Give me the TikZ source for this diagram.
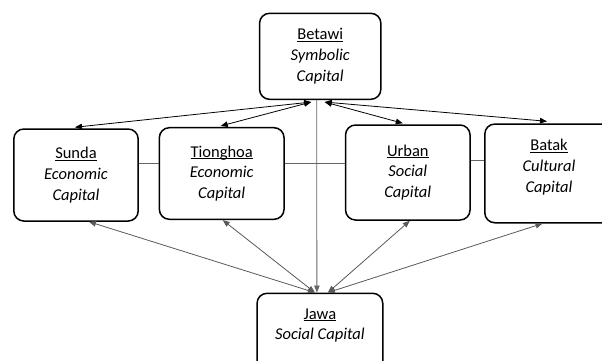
\documentclass[tikz,border=0pt]{standalone}
\usepackage{fontspec}
\setmainfont{Carlito}
\usetikzlibrary{arrows.meta}
\newcommand\uname[1]{\underline{\raisebox{0pt}[\height][0pt]{#1}}}
\newcommand\lifted[2]{\raisebox{#1}[\height][\depth]{\begin{tabular}{@{}c@{}}#2\end{tabular}}}
\begin{document}
\begin{tikzpicture}[x=1pt,y=-1pt,>={Triangle[length=7pt,width=5.5pt]},
  box/.style={draw,line width=1.5pt,rounded corners=10pt,align=center,
    inner sep=0pt,font=\fontsize{16.5}{20.7}\selectfont},
  upper/.style={<->,line width=0.8pt,black},
  lower/.style={<->,line width=0.8pt,black!65},
  link/.style={line width=0.8pt,black!60}]
  \useasboundingbox (0,0) rectangle (602,360);
  % groups
  \node[box,minimum width=121.3pt,minimum height=86pt] (betawi) at (320.2,56.3)
    {\uname{Betawi}\\\textit{Symbolic}\\\textit{Capital}};
  \node[box,minimum width=124.4pt,minimum height=92pt] (sunda) at (76,175)
    {\uname{Sunda}\\\textit{Economic}\\\textit{Capital}};
  \node[box,minimum width=124.7pt,minimum height=91.6pt] (tionghoa) at (221.7,173.5)
    {\uname{Tionghoa}\\\textit{Economic}\\\textit{Capital}};
  \node[box,minimum width=124.5pt,minimum height=95pt] (urban) at (407.8,172.5)
    {\uname{Urban}\\\textit{Social}\\\textit{Capital}};
  \node[box,minimum width=128.4pt,minimum height=98.7pt] (batak) at (549,173.4)
    {\lifted{6pt}{\uname{Batak}\\\textit{Cultural}\\\textit{Capital}}};
  \node[box,minimum width=125.7pt,minimum height=80pt] (jawa) at (319.9,333.3)
    {\lifted{8pt}{\uname{Jawa}\\\textit{Social Capital}}};
  % side links
  \draw[link] ([yshift=11.7pt]sunda.east) -- ([yshift=10.2pt]tionghoa.west);
  \draw[link] ([yshift=10.2pt]tionghoa.east) -- ([yshift=9.2pt]urban.west);
  \draw[link] ([yshift=12.5pt]urban.east) -- ([yshift=13.4pt]batak.west);
  % betawi arrows
  \draw[upper] ([xshift=-9pt,yshift=-2pt]betawi.south) -- ([xshift=-1pt,yshift=1pt]sunda.north);
  \draw[upper] ([xshift=-9pt,yshift=-2pt]betawi.south) -- ([xshift=-1pt,yshift=1pt]tionghoa.north);
  \draw[upper] ([xshift=4.5pt,yshift=-2pt]betawi.south) -- ([xshift=-5pt,yshift=1pt]urban.north);
  \draw[upper] ([xshift=4.5pt,yshift=-2pt]betawi.south) -- ([xshift=-2pt,yshift=2pt]batak.north);
  \draw[link,->] ([xshift=-3.5pt]betawi.south) -- ([xshift=-3pt]jawa.north);
  % jawa arrows
  \draw[lower] ([xshift=-5pt]jawa.north) -- ([xshift=13pt]sunda.south);
  \draw[lower] ([xshift=-5pt]jawa.north) -- ([xshift=1pt]tionghoa.south);
  \draw[lower] ([xshift=8pt]jawa.north) -- ([xshift=2pt]urban.south);
  \draw[lower] ([xshift=8pt]jawa.north) -- ([xshift=-6.5pt]batak.south);
\end{tikzpicture}
\end{document}
